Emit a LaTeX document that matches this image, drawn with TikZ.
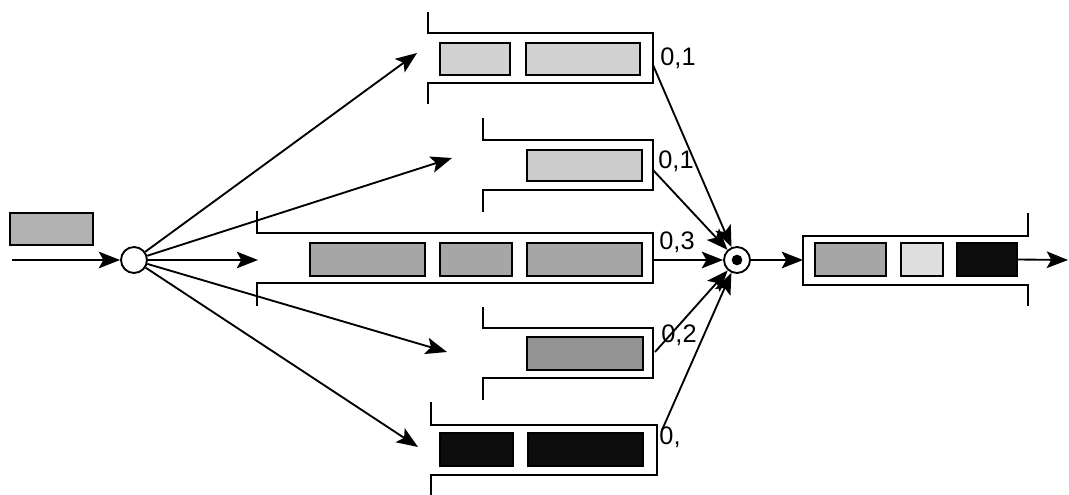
\documentclass[tikz,border=0pt]{standalone}
\usepackage{fontspec}
\setmainfont{Liberation Sans}
\usetikzlibrary{arrows.meta}
\begin{document}
\begin{tikzpicture}[x=0.75pt,y=-0.75pt,
  tok/.style 2 args={draw=black, line width=1.4pt, minimum width=#1*0.75pt, minimum height=#2*0.75pt, inner sep=0pt},
  queue/.style={draw=black, line width=1.5pt},
  conn/.style={draw=black, line width=1.4pt, -{Stealth[length=16pt,width=12.5pt,inset=3.5pt]}},
  prob/.style={font=\fontsize{19}{22}\selectfont, inner sep=0pt},
  disc/.style={circle, draw=black, line width=1.4pt, minimum size=19.5pt, inner sep=0pt, fill=white}]
\useasboundingbox (0,0) rectangle (1069,495);

% input token and splitter
\node[tok={83}{32}, fill=gray!60] (in) at (51.5,229) {};
\coordinate (src) at (12,260);
\node[disc] (split) at (134,260) {};
\draw[conn] (src) -- (split);

% queue brackets
\draw[queue] (428,12)--(428,33)--(653,33)--(653,83)--(428,83)--(428,104);
\draw[queue] (483,118)--(483,140)--(653,140)--(653,190)--(483,190)--(483,212);
\draw[queue] (257,211)--(257,233)--(653,233)--(653,283)--(257,283)--(257,306);
\draw[queue] (483,307)--(483,328)--(653,328)--(653,378)--(483,378)--(483,400);
\draw[queue] (431,402)--(431,425)--(657,425)--(657,475)--(431,475)--(431,495);
\draw[queue] (1028,213)--(1028,236)--(803,236)--(803,285)--(1028,285)--(1028,306);

% tokens in queues
\node[tok={70}{32}, fill=gray!35] (q1a) at (475,59) {};
\node[tok={114}{32}, fill=gray!35] (q1b) at (583,59) {};
\node[tok={115}{31}, fill=gray!40] (q2a) at (584.5,165.5) {};
\node[tok={115}{33}, fill=gray!70] (q3a) at (367.5,259.5) {};
\node[tok={72}{33}, fill=gray!70] (q3b) at (476,259.5) {};
\node[tok={115}{33}, fill=gray!70] (q3c) at (584.5,259.5) {};
\node[tok={116}{33}, fill=gray!85] (q4a) at (585,353.5) {};
\node[tok={73}{33}, fill=black!95] (q5a) at (476.5,449.5) {};
\node[tok={115}{33}, fill=black!95] (q5b) at (585.5,449.5) {};
\node[tok={71}{33}, fill=gray!70] (o1) at (850.5,259.5) {};
\node[tok={42}{33}, fill=gray!25] (o2) at (922,259.5) {};
\node[tok={60}{33}, fill=black!95] (o3) at (987,259.5) {};

% probabilities
\node[prob] (p1) at (678,58) {0,1};
\node[prob] (p2) at (676,161) {0,1};
\node[prob] (p3) at (677,242) {0,3};
\node[prob] (p4) at (679,335) {0,2};
\node[prob] (p5) at (670,437) {0,};

% distribution arrows
\coordinate (d1) at (417,53);
\coordinate (d2) at (452,158);
\coordinate (d3) at (258,260);
\coordinate (d4) at (447,352);
\coordinate (d5) at (418,447);
\foreach \d in {d1,d2,d3,d4,d5} \draw[conn] (split) -- (\d);

% merger
\node[disc] (merge) at (737,260) {};
\fill (merge.center) circle[radius=4pt];
\coordinate (e1) at (653,65);
\coordinate (e2) at (653,170);
\coordinate (e3) at (653,260);
\coordinate (e4) at (655,352);
\coordinate (e5) at (662,430);
\foreach \e in {e1,e2,e3,e4,e5} \draw[conn] (\e) -- (merge);

% output
\coordinate (oin) at (803,260);
\coordinate (sink) at (1068,260);
\draw[conn] (merge) -- (oin);
\draw[conn] (o3.east) -- (sink);
\end{tikzpicture}
\end{document}
